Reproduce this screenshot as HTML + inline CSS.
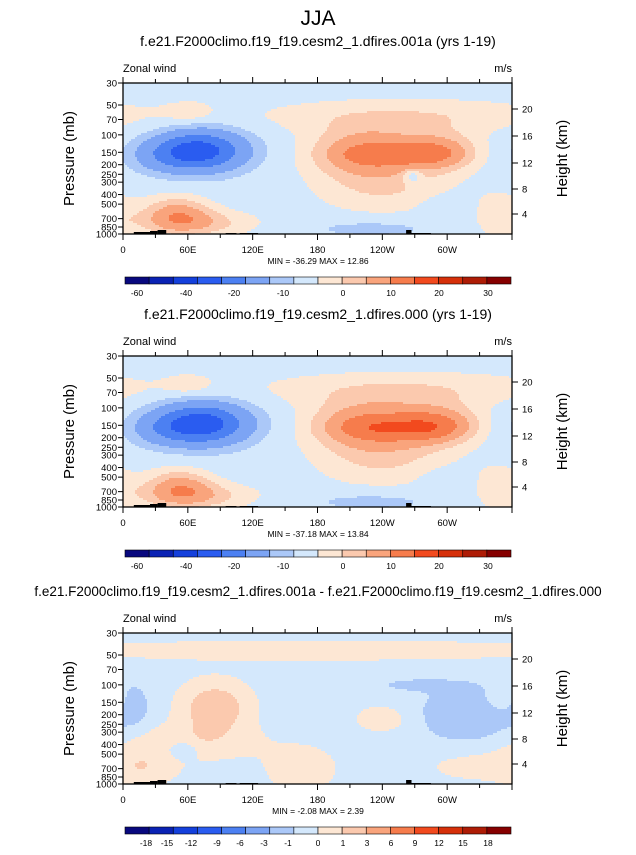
<!DOCTYPE html>
<html><head><meta charset="utf-8">
<style>
body{margin:0;background:#fff;}
svg text{font-family:"Liberation Sans",sans-serif;}
</style></head>
<body>
<svg id="chart" width="636" height="850" viewBox="0 0 636 850" xmlns="http://www.w3.org/2000/svg">
<text x="318" y="25" font-size="21" text-anchor="middle">JJA</text>
</svg>
<script>
// ---- data ----
const pressureTicks = [30,50,70,100,150,200,250,300,400,500,700,850,1000];
const heightTicks = [4,8,12,16,20];
const heightTickY = [214,189,163,136,109];
const lonTicks = [0,60,120,180,240,300];
const lonTickLabels = ["0","60E","120E","180","120W","60W"];
const panelTitles = ["f.e21.F2000climo.f19_f19.cesm2_1.dfires.001a (yrs 1-19)","f.e21.F2000climo.f19_f19.cesm2_1.dfires.000 (yrs 1-19)","f.e21.F2000climo.f19_f19.cesm2_1.dfires.001a - f.e21.F2000climo.f19_f19.cesm2_1.dfires.000"];
const minMaxText = ["MIN = -36.29  MAX =  12.86","MIN = -37.18  MAX =  13.84","MIN =  -2.08  MAX =   2.39"];
const levelsAbs = [-60,-50,-40,-30,-20,-10,-5,0,3,6,10,15,20,25,30];
const levelsDiff = [-18,-15,-12,-9,-6,-3,-1,0,1,3,6,9,12,15,18];
const cbarLabelsAbs = ["-60","-40","-20","-10","0","10","20","30"];
const cbarLabelsAbsX = [137,186,234,283,343,391,439,488];
const cbarLabelsDiff = levelsDiff.map(String);
const cbarLabelsDiffX = [146,167,191,217,240,264,288,318,343,367,391,415,439,463,488];
const colors = ["#08087e","#0a22b4","#1440dc","#2a5cf0","#4c80f2","#7ca4f4","#abc8f8","#d4e8fc","#fde7d4","#fbc9ae","#f9a47c","#f67c4c","#f24a1e","#d6300a","#ae1c06","#860000"];
// features: [lon, pressure, amplitude, sigmaLon, sigmaLnP]
const background = [-2,-2,-0.4];
const features1 = [[70,145,-34,30,0.33],[35,170,-6,22,0.25],[225,150,12,36,0.38],[292,150,11,26,0.3],[250,160,3,30,0.15],[262,65,5,100,0.3],[62,60,4,16,0.18],[50,620,9,22,0.3],[70,780,6,40,0.22],[240,340,5,45,0.45],[348,650,4,18,0.4],[230,880,-5,45,0.15],[300,560,-4,14,0.18],[268,260,-6,6,0.12]];
const features2 = [[72,145,-35,31,0.34],[35,170,-6,22,0.25],[228,150,13,38,0.38],[292,150,12,27,0.31],[250,160,3,30,0.15],[262,65,5,100,0.3],[62,60,4,16,0.18],[52,620,9,22,0.3],[70,780,6,40,0.22],[240,340,5,45,0.45],[348,650,4,18,0.4],[230,880,-5,45,0.15],[300,560,-4,14,0.18]];
const features3 = [[180,45,1.1,180,0.16],[85,170,2.3,22,0.42],[60,380,1.1,45,0.3],[20,700,1.0,20,0.3],[240,220,1.0,18,0.22],[350,140,1.2,10,0.18],[165,700,0.9,25,0.4],[320,200,-1.8,30,0.45],[270,100,-0.8,30,0.12],[55,450,-1.4,10,0.15],[10,160,-1.0,10,0.35],[330,650,0.7,40,0.3]];
const panelFeatures = [features1,features2,features3];
const panelLevels = [levelsAbs,levelsAbs,levelsDiff];

// ---- layout ----
const svg = document.getElementById('chart');
const NS = 'http://www.w3.org/2000/svg';
const X0 = 123, X1 = 512, PH = 151;
const panelTops = [83,356,633];
const lnTop = Math.log(30), lnBot = Math.log(1000);
const xScale = lon => X0 + lon/360*(X1-X0);
const yScale = (p,top) => top + (Math.log(p)-lnTop)/(lnBot-lnTop)*PH;
function mk(tag, attrs, parent){const e=document.createElementNS(NS,tag);for(const k in attrs)e.setAttribute(k,attrs[k]);(parent||svg).appendChild(e);return e;}
function txt(s,x,y,size,anchor,parent){const t=mk('text',{x:x,y:y,'font-size':size,'text-anchor':anchor||'start'},parent);t.textContent=s;return t;}
function field(feats,bg,lon,lnp){let v=bg;for(const f of feats){let dl=Math.abs(lon-f[0]);if(dl>180)dl=360-dl;const dp=lnp-Math.log(f[1]);v+=f[2]*Math.exp(-(dl*dl)/(2*f[3]*f[3])-(dp*dp)/(2*f[4]*f[4]));}return v;}
function colorIdx(v,lev){let i=0;while(i<lev.length&&v>=lev[i])i++;return i;}

panelTops.forEach((top,pi)=>{
  const g = mk('g',{});
  
  
  const tt = txt(panelTitles[pi],318,top-37,pi==2?13.5:14,'middle',g);
  
  
  const lz=txt('Zonal wind',123,top-11,11,'start',g);
  
  
  const lu=txt('m/s',512,top-11,11,'end',g);
  
  
  const cg = mk('g',{'shape-rendering':'crispEdges'},g);
  
  
  const step=2;
  for(let py=top;py<top+PH;py+=step){
    const lnp = lnTop+((py+step/2-top)/PH)*(lnBot-lnTop);
    const h=Math.min(step,top+PH-py);
    let runStart=X0, runC=-1;
    for(let px=X0;px<X1;px+=step){
      const lon=(px+step/2-X0)/(X1-X0)*360;
      const c=colorIdx(field(panelFeatures[pi],background[pi],lon,lnp),panelLevels[pi]);
      if(c!==runC){
        if(runC>=0){mk('rect',{x:runStart,y:py,width:px-runStart,height:h,fill:colors[runC]},cg);}
        runStart=px;runC=c;
      }
    }
    if(runC>=0){mk('rect',{x:runStart,y:py,width:X1-runStart,height:h,fill:colors[runC]},cg);}
  }
  const topo=[[10,25,2],[25,32,3],[32,40,4],[95,105,1],[108,125,1],[262,267,4],[267,285,1]];
  topo.forEach(t=>{const r=mk('rect',{x:xScale(t[0]),y:top+PH-t[2],width:xScale(t[1])-xScale(t[0]),height:t[2],fill:'#000'},g);});
  const fr=mk('rect',{x:X0,y:top,width:X1-X0,height:PH,fill:'none',stroke:'#000','stroke-width':1.3},g);
  
  
  pressureTicks.forEach(p=>{const y=yScale(p,top);mk('line',{x1:X0-5,x2:X0,y1:y,y2:y,stroke:'#000'},g);const t=txt(String(p),X0-6,y+3.5,9.5,'end',g);});
  heightTicks.forEach((h,i)=>{const y=heightTickY[i]-83+top;mk('line',{x1:X1,x2:X1+6,y1:y,y2:y,stroke:'#000'},g);const t=txt(String(h),X1+10,y+3.5,9.5,'start',g);});
  for(let lon=0;lon<=360;lon+=30){const x=xScale(lon);const L=lon%60===0?6:4;mk('line',{x1:x,x2:x,y1:top+PH,y2:top+PH+L,stroke:'#000'},g);mk('line',{x1:x,x2:x,y1:top,y2:top-L,stroke:'#000'},g);}
  lonTicks.forEach((lon,i)=>{const t=txt(lonTickLabels[i],xScale(lon),top+PH+19,9.5,'middle',g);});
  const yl=txt('Pressure (mb)',0,0,15,'middle',g);yl.setAttribute('transform',`translate(74,${top+PH/2}) rotate(-90)`);
  
  
  const hl=txt('Height (km)',0,0,15,'middle',g);hl.setAttribute('transform',`translate(567,${top+PH/2}) rotate(-90)`);
  
  
  const mm=txt(minMaxText[pi],318,top+PH+30,8.5,'middle',g);
  
  
  const cb=mk('g',{},g);
  
  
  const cy=top+194, cx0=125, cw=(511-125)/16;
  colors.forEach((c,i)=>{mk('rect',{x:cx0+i*cw,y:cy,width:cw,height:7,fill:c,stroke:'#000','stroke-width':0.6},cb);});
  const labs=pi==2?cbarLabelsDiff:cbarLabelsAbs, lx=pi==2?cbarLabelsDiffX:cbarLabelsAbsX;
  labs.forEach((s,i)=>{const t=txt(s,lx[i],cy+19,8.5,'middle',cb);});
});
</script>
</body></html>
